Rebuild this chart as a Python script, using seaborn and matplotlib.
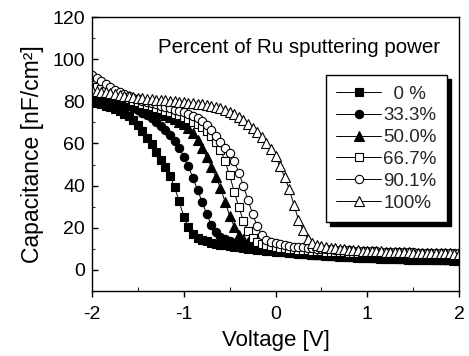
import numpy as np
import pandas as pd
import matplotlib
matplotlib.use("Agg")
import matplotlib.pyplot as plt
from matplotlib.ticker import MultipleLocator
from matplotlib.patches import Rectangle
from matplotlib.transforms import offset_copy
import seaborn as sns

# ---- data ----
voltage = np.round(np.linspace(-2.0, 2.0, 81), 2)

cap_0 = [80.0, 79.3, 78.6, 77.9, 77.1, 76.3, 75.3, 74.2, 72.8, 71.0,
         68.6, 65.8, 62.8, 59.6, 55.8, 52.0, 48.9, 44.6, 39.3, 32.5,
         25.3, 20.3, 17.0, 15.3, 14.2, 13.5, 12.9, 12.4, 12.0, 11.6,
         11.3, 11.0, 10.7, 10.4, 10.1, 9.9, 9.6, 9.4, 9.1, 8.9,
         8.7,
         8.5, 8.3, 8.1, 7.9, 7.7, 7.6, 7.4, 7.3, 7.1, 7.0,
         6.9, 6.7, 6.6, 6.5, 6.4, 6.3, 6.2, 6.1, 6.0, 5.9,
         5.8, 5.7, 5.65, 5.6, 5.5, 5.45, 5.4, 5.3, 5.25, 5.2,
         5.1, 5.05, 5.0, 4.95, 4.9, 4.85, 4.8, 4.75, 4.7, 4.65]

cap_33 = [82.5, 82.0, 81.5, 81.0, 80.4, 79.8, 79.1, 78.4, 77.6, 76.7,
          75.7, 74.6, 73.3, 71.9, 70.3, 68.5, 66.4, 64.0, 61.2, 57.9,
          53.8, 49.2, 43.6, 38.0, 32.3, 26.5, 21.3, 17.8, 15.8, 14.5,
          13.6, 12.9, 12.3, 11.8, 11.3, 10.9, 10.5, 10.1, 9.8, 9.5,
          9.2,
          8.9, 8.7, 8.4, 8.2, 8.0, 7.8, 7.6, 7.5, 7.3, 7.2,
          7.0, 6.9, 6.8, 6.7, 6.55, 6.45, 6.35, 6.25, 6.15, 6.05,
          5.95, 5.85, 5.8, 5.7, 5.6, 5.55, 5.5, 5.4, 5.35, 5.3,
          5.2, 5.15, 5.1, 5.05, 5.0, 4.95, 4.9, 4.85, 4.8, 4.75]

cap_50 = [88.0, 86.9, 85.8, 84.8, 83.8, 82.9, 82.0, 81.1, 80.3, 79.5,
          78.7, 77.9, 77.1, 76.3, 75.5, 74.6, 73.7, 72.7, 71.6, 70.4,
          69.0, 67.3, 65.0, 61.8, 57.8, 53.5, 49.0, 44.2, 38.8, 32.4,
          25.8, 20.5, 16.8, 14.6, 13.3, 12.4, 11.7, 11.1, 10.6, 10.2,
          9.8,
          9.4, 9.1, 8.8, 8.5, 8.3, 8.1, 7.9, 7.7, 7.5, 7.35,
          7.2, 7.05, 6.9, 6.8, 6.7, 6.55, 6.45, 6.35, 6.25, 6.15,
          6.05, 5.95, 5.85, 5.8, 5.7, 5.6, 5.55, 5.5, 5.4, 5.35,
          5.3, 5.25, 5.2, 5.15, 5.1, 5.05, 5.0, 4.95, 4.9, 4.85]

cap_67 = [87.6, 86.7, 85.8, 84.9, 84.0, 83.2, 82.4, 81.6, 80.9, 80.2,
          79.5, 78.9, 78.3, 77.6, 77.0, 76.3, 75.6, 74.9, 74.2, 73.4,
          72.5, 71.5, 70.4, 69.1, 67.6, 65.8, 63.5, 60.5, 57.0, 51.6,
          44.8, 37.2, 29.8, 23.3, 18.7, 15.0, 13.3, 12.4, 11.8, 11.4,
          11.0,
          10.6, 10.3, 10.0, 9.8, 9.6, 9.4, 9.25, 9.1, 8.95, 8.8,
          8.7, 8.6, 8.5, 8.4, 8.3, 8.2, 8.15, 8.1, 8.0, 7.95,
          7.9, 7.85, 7.8, 7.75, 7.7, 7.65, 7.6, 7.55, 7.5, 7.45,
          7.4, 7.35, 7.3, 7.25, 7.2, 7.15, 7.1, 7.05, 7.0, 6.95]

cap_90 = [92.5, 90.9, 89.4, 88.0, 86.8, 85.6, 84.5, 83.5, 82.6, 81.8,
          81.0, 80.3, 79.7, 79.1, 78.5, 77.9, 77.3, 76.7, 76.1, 75.5,
          74.8, 74.0, 73.1, 72.0, 70.6, 68.8, 66.5, 63.6, 60.8, 58.0,
          55.3, 51.6, 46.2, 40.0, 33.2, 26.6, 20.8, 16.6, 14.4, 13.3,
          12.6,
          12.1, 11.7, 11.4, 11.1, 10.9, 10.7, 10.5, 10.3, 10.15, 10.0,
          9.85, 9.7, 9.6, 9.5, 9.4, 9.3, 9.2, 9.1, 9.0, 8.9,
          8.85, 8.8, 8.7, 8.65, 8.6, 8.5, 8.45, 8.4, 8.35, 8.3,
          8.25, 8.2, 8.15, 8.1, 8.05, 8.0, 7.95, 7.9, 7.85, 7.8]

cap_100 = [85.5, 85.0, 84.6, 84.2, 83.8, 83.4, 83.0, 82.7, 82.4, 82.1,
           81.8, 81.5, 81.3, 81.0, 80.8, 80.6, 80.4, 80.2, 80.0, 79.8,
           79.6, 79.4, 79.2, 78.9, 78.6, 78.2, 77.8, 77.3, 76.7, 76.0,
           75.1, 74.0, 72.6, 71.0, 69.2, 67.3, 65.3, 63.0, 60.4, 57.4,
           53.9, 49.2, 44.0, 38.3, 31.0, 23.8, 18.8, 14.8, 12.8, 11.8,
           11.2, 10.8, 10.5, 10.2, 10.0, 9.8, 9.6, 9.5, 9.3, 9.2,
           9.1, 9.0, 8.9, 8.8, 8.7, 8.6, 8.5, 8.45, 8.4, 8.3,
           8.25, 8.2, 8.1, 8.05, 8.0, 7.95, 7.9, 7.85, 7.8, 7.75, 7.7]

labels = ["  0 %", "33.3%", "50.0%", "66.7%", "90.1%", "100%"]
series = [cap_0, cap_33, cap_50, cap_67, cap_90, cap_100]
markers = ["s", "o", "^", "s", "o", "^"]
filled = [True, True, True, False, False, False]

x_ticks = [-2, -1, 0, 1, 2]
y_ticks = [0, 20, 40, 60, 80, 100, 120]

# ---- style ----
sns.set_theme(style="ticks")
plt.rcParams["font.family"] = ["Liberation Sans", "DejaVu Sans"]

fig = plt.figure(figsize=(4.69, 3.56), dpi=100)
ax = fig.add_axes([92 / 469, 1 - 291 / 356, 367 / 469, 274 / 356])

for lab, vals, mk, fl in zip(labels, series, markers, filled):
    df = pd.DataFrame({"V": voltage, "C": vals})
    sns.lineplot(data=df, x="V", y="C", ax=ax, sort=False, color="black",
                 linewidth=0.7, marker=mk, markersize=6.0 if mk != "^" else 6.6,
                 markerfacecolor="black" if fl else "white",
                 markeredgecolor="black", markeredgewidth=0.8, label=lab)

ax.set_xlim(-2, 2)
ax.set_ylim(-10, 120)
ax.set_xticks(x_ticks)
ax.set_yticks(y_ticks)
ax.xaxis.set_minor_locator(MultipleLocator(0.5))
ax.yaxis.set_minor_locator(MultipleLocator(10))
ax.tick_params(axis="x", which="major", direction="out", length=4, width=1,
               labelsize=14, pad=7, colors="black")
ax.tick_params(axis="x", which="minor", direction="in", length=3, width=0.8)
ax.tick_params(axis="y", which="major", direction="in", length=4, width=1,
               labelsize=14, pad=5, colors="black")
ax.tick_params(axis="y", which="minor", direction="in", length=2.5, width=0.8)
ax.set_xticklabels([str(t) for t in x_ticks])
for s in ax.spines.values():
    s.set_color("black")
    s.set_linewidth(1.0)

ax.set_xlabel("Voltage [V]", fontsize=16, labelpad=5, color="black")
ax.set_ylabel("Capacitance [nF/cm²]", fontsize=16.5, labelpad=6, color="black")

ax.text(0.18, 0.887, "Percent of Ru sputtering power", transform=ax.transAxes,
        fontsize=14.8, ha="left", va="center", color="black")

leg = ax.legend(loc="upper left", bbox_to_anchor=(0.638, 0.788), borderaxespad=0,
                fontsize=13.5, frameon=True, fancybox=False,
                handlelength=2.4, handletextpad=0.1, labelspacing=0.25,
                borderpad=0.55, edgecolor="black")
leg.get_frame().set_linewidth(1.0)
leg.get_frame().set_alpha(1.0)
leg.set_zorder(6)

# solid black drop shadow below/right of the legend box
fig.canvas.draw()
bb = leg.get_window_extent().transformed(ax.transAxes.inverted())
shadow_tr = offset_copy(ax.transAxes, fig=fig, x=4, y=-4, units="dots")
shadow = Rectangle((bb.x0, bb.y0), bb.width, bb.height,
                   transform=shadow_tr, facecolor="black", edgecolor="black",
                   clip_on=False, zorder=5.5)
ax.add_artist(shadow)

fig.savefig("out.png", dpi=100, facecolor="white")
